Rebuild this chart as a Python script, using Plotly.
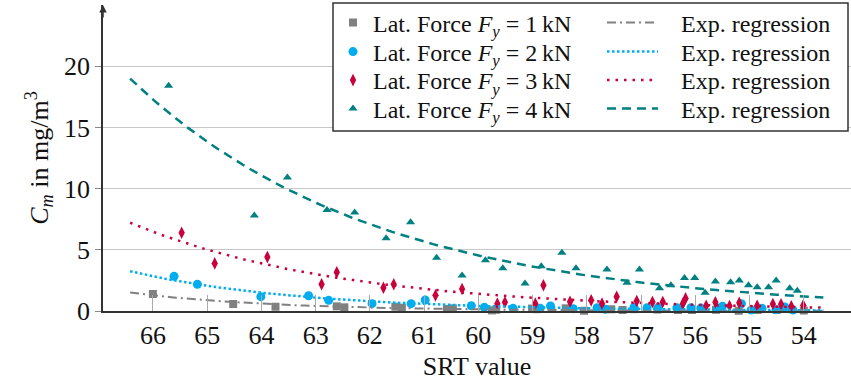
import numpy as np
import plotly.graph_objects as go

# ---------------- data ----------------
x1 = [66.0, 64.52, 63.74, 62.61, 62.47, 61.53, 61.41, 60.58, 60.47, 59.75, 59.67, 59.01, 58.92,
      58.39, 58.05, 57.55, 57.34, 57.13, 56.70, 56.32, 56.06, 55.62, 55.20, 54.85, 54.50, 54.00]
y1 = [1.39, 0.57, 0.35, 0.38, 0.30, 0.35, 0.27, 0.16, 0.22, 0.05, 0.10, 0.20, 0.15,
      0.22, 0.02, 0.14, 0.08, 0.15, 0.12, 0.08, 0.08, 0.10, 0.02, 0.08, 0.08, 0.04]

x2 = [65.61, 65.18, 64.01, 63.13, 62.76, 61.96, 61.24, 60.98, 60.13, 59.89, 59.36, 58.86, 58.67,
      58.25, 57.81, 57.66, 57.13, 56.89, 56.68, 56.34, 56.08, 55.90, 55.59, 55.50, 55.15, 54.97,
      54.77, 54.51, 54.35, 54.20]
y2 = [2.83, 2.18, 1.17, 1.25, 0.87, 0.60, 0.60, 0.90, 0.43, 0.30, 0.22, 0.22, 0.41,
      0.19, 0.27, 0.14, 0.30, 0.27, 0.30, 0.27, 0.27, 0.24, 0.24, 0.38, 0.60, 0.08,
      0.22, 0.11, 0.33, 0.08]

x3 = [65.47, 64.86, 63.89, 62.89, 62.61, 61.75, 61.56, 60.79, 60.30, 59.65, 59.51, 58.95, 58.80,
      58.31, 57.92, 57.72, 57.45, 57.08, 56.79, 56.60, 56.23, 56.18, 55.80, 55.63, 55.37, 55.19,
      54.86, 54.57, 54.42, 54.23, 54.01]
y3 = [6.39, 3.89, 4.41, 2.18, 3.16, 1.90, 2.18, 1.28, 1.80, 0.60, 0.71, 0.60, 2.10,
      0.76, 0.87, 0.60, 1.17, 0.82, 0.73, 0.73, 0.60, 1.03, 0.43, 0.71, 0.41, 0.68,
      0.43, 0.57, 0.55, 0.38, 0.46]

x4 = [65.71, 64.13, 63.52, 62.79, 62.28, 61.70, 61.25, 60.77, 60.30, 59.87, 59.55, 59.14, 58.84,
      58.46, 58.20, 57.63, 57.26, 57.03, 56.66, 56.45, 56.20, 56.01, 55.82, 55.63, 55.35, 55.19,
      55.02, 54.86, 54.65, 54.51, 54.26, 54.12]
y4 = [18.4, 7.8, 10.9, 8.25, 8.05, 5.95, 7.25, 4.35, 2.9, 4.15, 3.5, 2.25, 3.65,
      4.75, 3.5, 3.4, 2.3, 3.4, 1.85, 2.1, 2.7, 2.7, 1.5, 2.4, 2.35, 2.5,
      2.1, 1.95, 1.95, 2.5, 1.85, 1.65]

# exponential regression  y = A * exp(B * (x - 54))
reg_A = [0.0134, 0.061, 0.30, 1.19]
reg_B = [0.38, 0.32, 0.256, 0.223]
reg_range = [66.42, 53.64]

forces = ["1", "2", "3", "4"]
x_ticks = [66, 65, 64, 63, 62, 61, 60, 59, 58, 57, 56, 55, 54]
y_ticks = [0, 5, 10, 15, 20]

# ---------------- styling ----------------
FONT = "Liberation Serif"
colors = ["#808080", "#00adef", "#c8003c", "#008080"]
symbols = ["square", "circle", "diamond-tall", "triangle-up"]
msizes = [8, 9, 9, 8]
dashes = ["9px,4px,2px,4px", "2.5px,2.5px", "2.5px,6px", "9px,6px"]
lwidths = [2, 2.5, 2.5, 2.5]

W, H = 851, 381
L, R, T, B = 103, 0, 5, 70
pw, ph = W - L - R, H - T - B

def px2paper(px, py):
    return (px - L) / pw, (H - B - py) / ph

row_px = [23, 52, 80.5, 109]

xs = [x1, x2, x3, x4]
ys = [y1, y2, y3, y4]

fig = go.Figure()
legends = {}
for i in range(4):
    lname = "legend" if i == 0 else f"legend{i + 1}"
    fig.add_trace(go.Scatter(
        x=xs[i], y=ys[i], mode="markers",
        marker=dict(symbol=symbols[i], size=msizes[i], color=colors[i], line=dict(width=0)),
        name=f"Lat. Force <i>F<sub>y</sub></i> = {forces[i]}\u2009kN",
        legend=lname, cliponaxis=False,
    ))
    lx, ly = px2paper(333, row_px[i])
    legends[lname] = dict(x=lx, y=ly, xanchor="left", yanchor="middle",
                          bgcolor="rgba(0,0,0,0)", borderwidth=0,
                          font=dict(family=FONT, size=24, color="#111"), itemwidth=30)
for i in range(4):
    lname = f"legend{i + 5}"
    xr = np.linspace(reg_range[0], reg_range[1], 120)
    yr = reg_A[i] * np.exp(reg_B[i] * (xr - 54))
    fig.add_trace(go.Scatter(
        x=xr, y=yr, mode="lines",
        line=dict(color=colors[i], width=lwidths[i], dash=dashes[i]),
        name="\u00a0\u00a0\u00a0Exp. regression", legend=lname,
    ))
    lx, ly = px2paper(602, row_px[i])
    legends[lname] = dict(x=lx, y=ly, xanchor="left", yanchor="middle",
                          bgcolor="rgba(0,0,0,0)", borderwidth=0,
                          font=dict(family=FONT, size=24, color="#111"), itemwidth=51)

bx0, by0 = px2paper(333, 3)
bx1, by1 = px2paper(848, 131)

fig.update_layout(
    width=W, height=H,
    margin=dict(l=L, r=R, t=T, b=B),
    paper_bgcolor="white", plot_bgcolor="white",
    font=dict(family=FONT, size=24, color="#111"),
    xaxis=dict(
        range=[66.92, 53.13], tickvals=x_ticks, ticktext=[str(v) for v in x_ticks],
        ticks="inside", ticklen=16, tickcolor="#aaaaaa", tickwidth=1,
        showgrid=False, zeroline=False,
        showline=True, linecolor="#333333", linewidth=1.5,
        tickfont=dict(family=FONT, size=26, color="#111"),
        title=dict(text="SRT value", font=dict(family=FONT, size=26, color="#111"), standoff=14),
    ),
    yaxis=dict(
        range=[0, 25], tickvals=y_ticks, ticktext=[str(v) for v in y_ticks],
        ticks="outside", ticklen=6, tickcolor="#888888", tickwidth=1,
        showgrid=True, gridcolor="#c8c8c8", gridwidth=1.2,
        zeroline=False,
        showline=True, linecolor="#333333", linewidth=1.5,
        tickfont=dict(family=FONT, size=26, color="#111"),
        title=dict(text="<i>C<sub>m</sub></i> in mg/m<sup>3</sup>",
                   font=dict(family=FONT, size=26, color="#111"), standoff=8),
    ),
    shapes=[dict(type="rect", xref="paper", yref="paper",
                 x0=bx0, y0=by0, x1=bx1, y1=by1,
                 line=dict(color="#333333", width=1.5), fillcolor="white", layer="above")],
    annotations=[dict(xref="paper", yref="paper", x=0, y=1, ax=0, ay=14, axref="pixel", ayref="pixel",
                      text="", showarrow=True, arrowhead=2, arrowsize=1, arrowwidth=1.5,
                      arrowcolor="#333333")],
    showlegend=True,
    **legends,
)

fig.write_html("out.html")
